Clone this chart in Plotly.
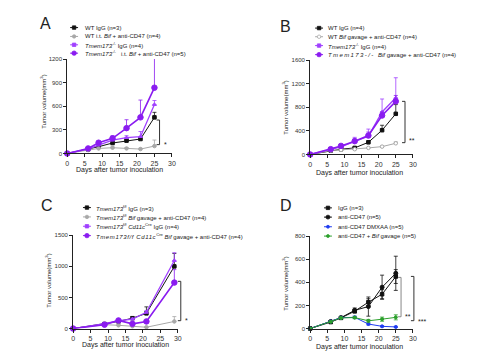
import plotly.graph_objects as go

W, H = 490, 364
FONT = "Liberation Sans, Arial, sans-serif"

# ---------------- data ----------------
days_A = [0, 6, 9, 13, 17, 21, 25]
A_wt_igg = [0, 51, 86, 133, 163, 184, 459]
A_wt_igg_err = [0, 10, 12, 15, 20, 15, 64]
A_wt_bif = [0, 43, 64, 73, 64, 56, 94]
A_wt_bif_err = [0, 8, 10, 20, 12, 10, 77]
A_ko_igg = [0, 56, 107, 171, 201, 214, 622]
A_ko_igg_err = [0, 10, 15, 20, 25, 65, 51]
A_ko_bif = [0, 64, 137, 193, 322, 459, 836]
A_ko_bif_err = [0, 10, 20, 30, 107, 220, 470]

days_B = [0, 6, 9, 13, 17, 21, 25]
B_wt_igg = [0, 67, 89, 111, 206, 411, 689]
B_wt_igg_err = [0, 8, 10, 15, 20, 84, 156]
B_wt_bif = [0, 67, 78, 89, 111, 133, 189]
B_wt_bif_err = [0, 5, 8, 8, 10, 15, 25]
B_ko_igg = [0, 85, 130, 220, 310, 720, 960]
B_ko_igg_err = [0, 10, 20, 70, 120, 220, 340]
B_ko_bif = [0, 90, 145, 225, 320, 660, 900]
B_ko_bif_err = [0, 10, 20, 40, 60, 60, 100]

days_C = [0, 9, 13, 17, 21, 29]
C_ff_igg = [0, 73, 114, 166, 244, 998]
C_ff_igg_err = [0, 10, 15, 20, 104, 208]
C_ff_bif = [0, 62, 52, 36, 21, 114]
C_ff_bif_err = [0, 10, 8, 8, 8, 78]
C_cre_igg = [0, 78, 125, 150, 260, 1092]
C_cre_igg_err = [0, 10, 15, 20, 30, 125]
C_cre_bif = [0, 62, 130, 75, 114, 738]
C_cre_bif_err = [0, 10, 10, 10, 15, 208]

days_D = [0, 6, 9, 13, 17, 21, 25]
D_igg = [0, 56, 92, 150, 228, 297, 450]
D_igg_err = [0, 8, 10, 15, 30, 40, 60]
D_cd47 = [0, 61, 94, 158, 190, 358, 478]
D_cd47_err = [0, 8, 10, 20, 83, 104, 148]
D_dmxaa = [0, 61, 94, 97, 39, 19, 14]
D_dmxaa_err = [0, 5, 8, 10, 8, 5, 5]
D_bif = [0, 58, 92, 95, 67, 81, 97]
D_bif_err = [0, 5, 8, 10, 12, 18, 22]

names_A = ["WT IgG (n=3)", "WT i.t. <i>Bif</i> + anti-CD47 (n=4)",
           "<i>Tmem173</i><sup>-/-</sup> IgG (n=4)",
           "<i>Tmem173</i><sup>-/-</sup>   i.t. <i>Bif</i> + anti-CD47 (n=5)"]
names_B = ["WT IgG (n=4)", "WT <i>Bif</i> gavage + anti-CD47 (n=4)",
           "<i>Tmem173</i><sup>-/-</sup> IgG (n=4)",
           "<i><span style=\"letter-spacing:1.4px\">Tmem173-/-</span>  Bif</i> gavage + anti-CD47 (n=4)"]
names_C = ["<i>Tmem173</i><sup>f/f</sup> IgG (n=3)",
           "<i>Tmem173</i><sup>f/f</sup> <i>Bif</i> gavage + anti-CD47 (n=4)",
           "<i>Tmem173</i><sup>f/f</sup> <i>Cd11c</i><sup>Cre</sup> IgG (n=4)",
           "<i><span style=\"letter-spacing:0.6px\">Tmem173f/f Cd11c</span></i><sup>Cre</sup> <i>Bif</i> gavage + anti-CD47 (n=4)"]
names_D = ["IgG (n=3)", "anti-CD47 (n=5)", "anti-CD47 DMXAA (n=5)",
           "anti-CD47 + <i>Bif</i> gavage (n=5)"]

# ---------------- styles ----------------
BLACK, GRAY, PURPLE, PURPLE2 = "#111111", "#a8a8a8", "#a040ff", "#8a1cf0"
BLUE, GREEN = "#1f3cf0", "#2ca02c"

fig = go.Figure()

def X(px):
    return px / W

def Y(py):
    return 1 - py / H

panels = {
    "1": ((66, 172), (57, 153), [0, 30], [0, 1200], [0, 300, 600, 900, 1200]),
    "2": ((312, 416), (58, 154), [0, 30], [0, 1600], [0, 400, 800, 1200, 1600]),
    "3": ((72, 178), (236, 331), [0, 30], [0, 1500], [0, 500, 1000, 1500]),
    "4": ((312, 416), (237, 331), [0, 30], [0, 800], [0, 200, 400, 600, 800]),
}

layout_axes = {}
for k, (xd, yd, xr, yr, yt) in panels.items():
    xa = "xaxis" if k == "1" else f"xaxis{k}"
    ya = "yaxis" if k == "1" else f"yaxis{k}"
    layout_axes[xa] = dict(
        domain=[X(xd[0]), X(xd[1])], range=xr, anchor="y" if k == "1" else f"y{k}",
        tickvals=[0, 5, 10, 15, 20, 25, 30], showgrid=False, zeroline=False,
        showline=True, linecolor="#222", linewidth=1, ticks="outside", ticklen=3,
        tickwidth=1, tickcolor="#222", tickfont=dict(size=7, color="#333", family=FONT),
        fixedrange=True)
    layout_axes[ya] = dict(
        domain=[Y(yd[1]), Y(yd[0])], range=yr, anchor="x" if k == "1" else f"x{k}",
        tickvals=yt, showgrid=False, zeroline=False,
        showline=True, linecolor="#222", linewidth=1, ticks="outside", ticklen=3,
        tickwidth=1, tickcolor="#222", tickfont=dict(size=6, color="#333", family=FONT),
        fixedrange=True)


def add(k, days, vals, err, color, symbol, size, width, open_=False, sym_err=False):
    xa = "x" if k == "1" else f"x{k}"
    ya = "y" if k == "1" else f"y{k}"
    fig.add_trace(go.Scatter(
        x=days, y=vals, xaxis=xa, yaxis=ya, mode="lines+markers",
        line=dict(color=color, width=width),
        marker=dict(color="white" if open_ else color, symbol=symbol, size=size,
                    line=dict(color=color, width=1)),
        error_y=dict(type="data", array=err,
                     arrayminus=err if sym_err else [0] * len(err),
                     color=color, thickness=0.8, width=2),
        cliponaxis=False, showlegend=False, hoverinfo="skip"))


styles = [
    (BLACK, "square", 3.5, 1.0, False),
    (GRAY, "circle", 3.5, 1.0, False),
    (PURPLE, "triangle-up", 3.5, 1.3, False),
    (PURPLE2, "circle", 5.5, 1.6, False),
]
stylesB = [styles[0], (GRAY, "circle", 3.5, 1.0, True), styles[2], styles[3]]
stylesD = [
    (BLACK, "square", 3.5, 1.0, False),
    (BLACK, "circle", 4, 1.0, False),
    (BLUE, "circle", 3, 1.0, False),
    (GREEN, "circle", 3, 1.0, False),
]

for (vals, err), st in zip([(A_wt_igg, A_wt_igg_err), (A_wt_bif, A_wt_bif_err),
                            (A_ko_igg, A_ko_igg_err), (A_ko_bif, A_ko_bif_err)], styles):
    add("1", days_A, vals, err, *st)
for (vals, err), st in zip([(B_wt_igg, B_wt_igg_err), (B_wt_bif, B_wt_bif_err),
                            (B_ko_igg, B_ko_igg_err), (B_ko_bif, B_ko_bif_err)], stylesB):
    add("2", days_B, vals, err, *st)
for (vals, err), st in zip([(C_ff_igg, C_ff_igg_err), (C_ff_bif, C_ff_bif_err),
                            (C_cre_igg, C_cre_igg_err), (C_cre_bif, C_cre_bif_err)], styles):
    add("3", days_C, vals, err, *st)
for (vals, err), st in zip([(D_igg, D_igg_err), (D_cd47, D_cd47_err),
                            (D_dmxaa, D_dmxaa_err), (D_bif, D_bif_err)], stylesD):
    add("4", days_D, vals, err, *st, sym_err=True)

annotations = []
shapes = []

# ---------------- legends ----------------
legends = [
    (names_A, 69, 82, [25, 34, 42.5, 51], styles),
    (names_B, 317, 328, [25.5, 34.3, 43.3, 52.5], stylesB),
    (names_C, 82, 93, [208, 217.5, 227, 236.5], styles),
    (names_D, 326, 338, [208.3, 217.7, 227.5, 237], stylesD),
]
for names, sx, tx, rows, sts in legends:
    for name, ry, st in zip(names, rows, sts):
        color, symbol, size, width, open_ = st
        shapes.append(dict(type="line", xref="paper", yref="paper",
                           x0=X(sx), x1=X(sx + 8), y0=Y(ry), y1=Y(ry),
                           line=dict(color=color, width=1)))
        r = min(size, 4.5) / 2
        shapes.append(dict(type="circle" if symbol == "circle" else "rect",
                           xref="paper", yref="paper",
                           x0=X(sx + 4 - r), x1=X(sx + 4 + r), y0=Y(ry + r), y1=Y(ry - r),
                           fillcolor="white" if open_ else color,
                           line=dict(color=color, width=0.8)))
        annotations.append(dict(text=name, xref="paper", yref="paper", x=X(tx), y=Y(ry),
                                xanchor="left", yanchor="middle", showarrow=False,
                                font=dict(size=6, color="#222", family=FONT)))

# ---------------- panel letters ----------------
for letter, px, py in [("A", 44, 21), ("B", 287, 24), ("C", 46, 206), ("D", 288, 206)]:
    annotations.append(dict(text=letter, xref="paper", yref="paper", x=X(px), y=Y(py),
                            xanchor="center", yanchor="middle", showarrow=False,
                            font=dict(size=16, color="#222", family=FONT)))

# ---------------- axis titles ----------------
for px, py in [(119, 170), (362, 173), (125, 348), (362, 350)]:
    annotations.append(dict(text="Days after tumor inoculation", xref="paper", yref="paper",
                            x=X(px), y=Y(py), xanchor="center", yanchor="middle",
                            showarrow=False, font=dict(size=7, color="#222", family=FONT)))
for px, py in [(42, 100), (287, 106), (47, 282), (287, 285)]:
    annotations.append(dict(text="Tumor volume(mm<sup>3</sup>)", xref="paper", yref="paper",
                            x=X(px), y=Y(py), xanchor="center", yanchor="middle", textangle=-90,
                            showarrow=False, font=dict(size=6, color="#222", family=FONT)))

# ---------------- significance brackets (page pixel positions) ----------------
def bracket(x, y0, y1, label, lx, ly, color="#333"):
    shapes.append(dict(type="path", xref="paper", yref="paper",
                       path=(f"M {X(x-3)},{Y(y0)} L {X(x)},{Y(y0)} "
                             f"L {X(x)},{Y(y1)} L {X(x-3)},{Y(y1)}"),
                       line=dict(color=color, width=1)))
    annotations.append(dict(text=label, xref="paper", yref="paper", x=X(lx), y=Y(ly),
                            xanchor="left", yanchor="middle", showarrow=False,
                            font=dict(size=7, color="#222", family=FONT)))

bracket(159.5, 119, 144, "*", 162, 144)
bracket(408, 100, 142, "**", 410, 140)
bracket(181, 283, 323, "*", 183.5, 323)
bracket(404, 279, 319, "**", 406, 319, color="#888")
bracket(417, 278, 323, "***", 419, 324)

fig.update_layout(
    width=W, height=H, margin=dict(l=0, r=0, t=0, b=0),
    paper_bgcolor="white", plot_bgcolor="white",
    showlegend=False, annotations=annotations, shapes=shapes,
    font=dict(family=FONT), **layout_axes)

fig.write_html("out.html", config={"displayModeBar": False, "staticPlot": True},
               post_script="document.body.style.margin='0';document.body.style.overflow='hidden';")
